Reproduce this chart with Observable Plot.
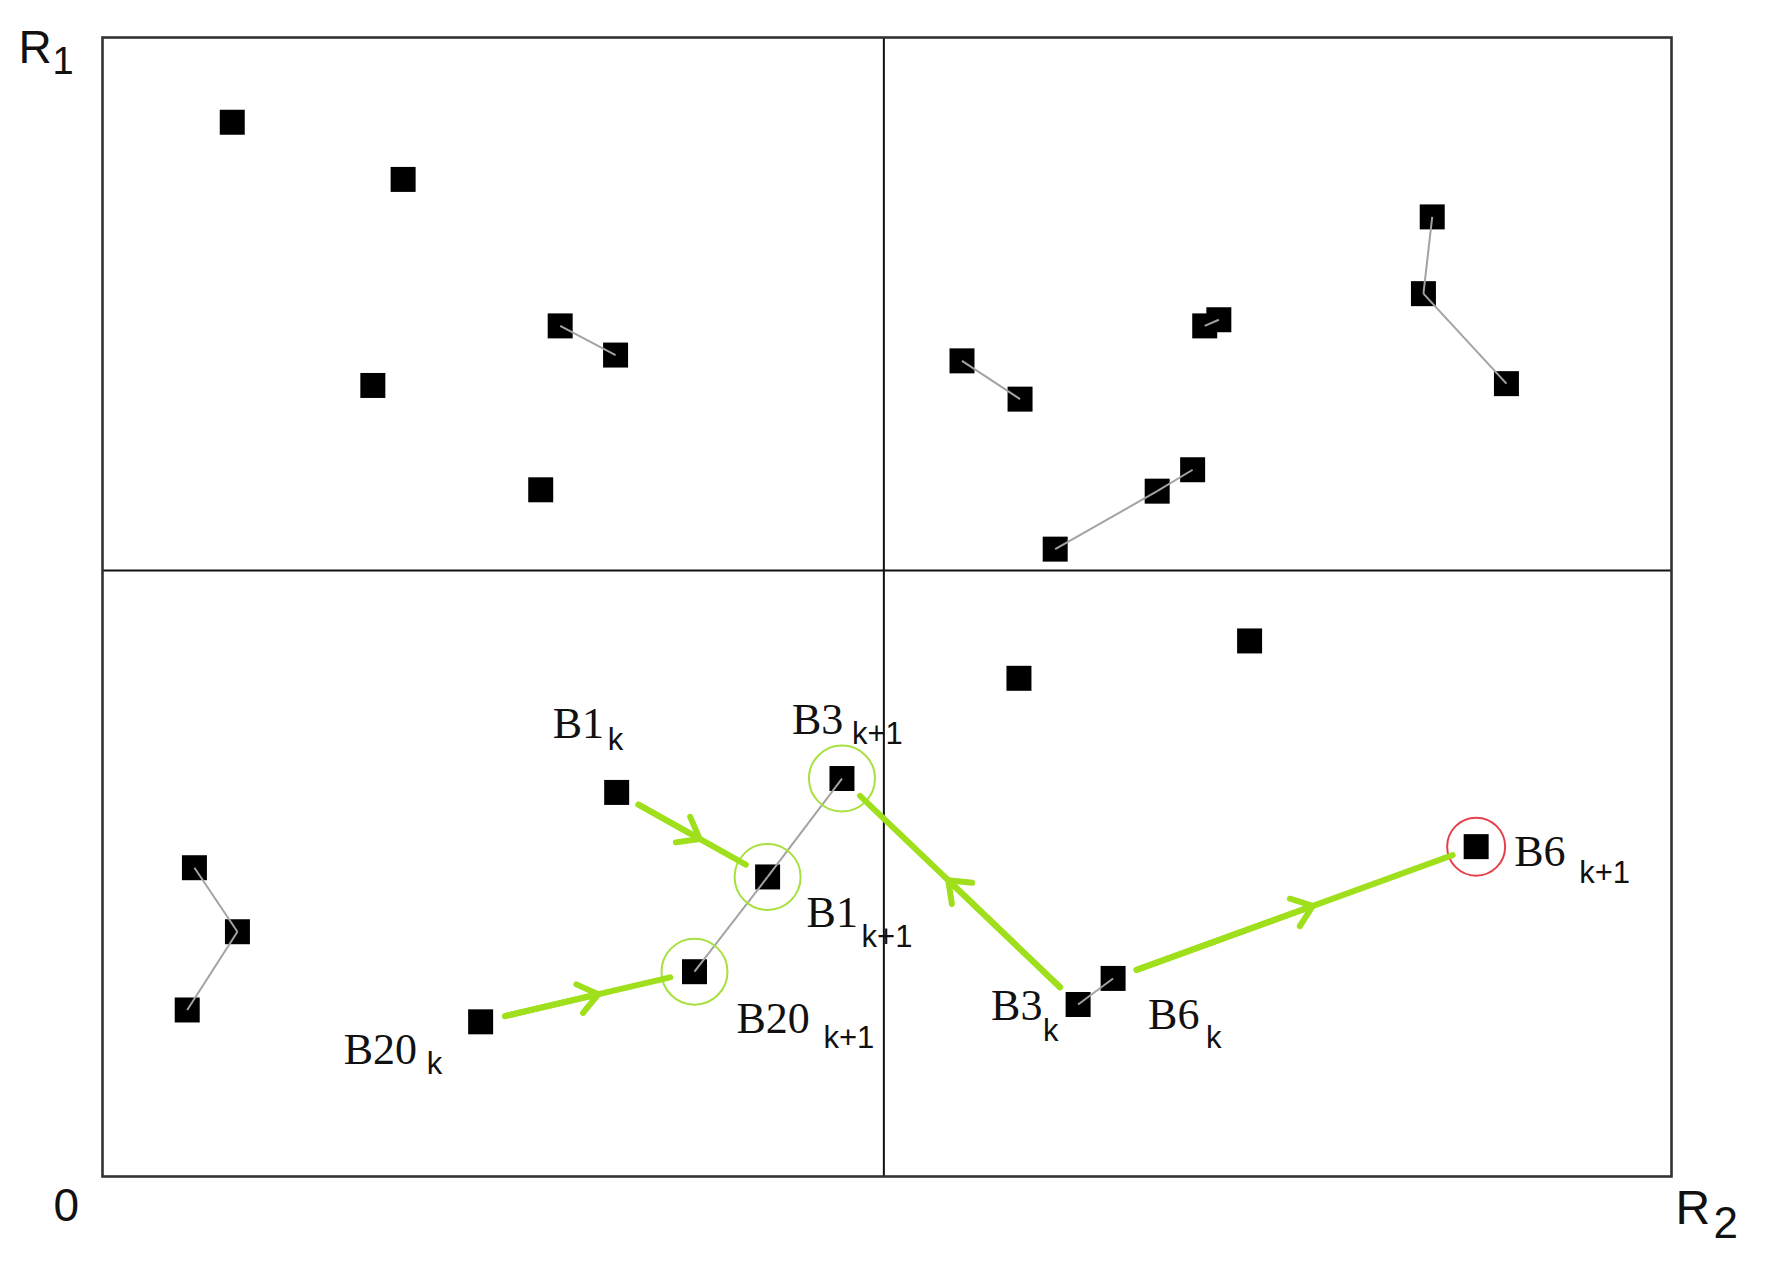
<!DOCTYPE html>
<html>
<head>
<meta charset="utf-8">
<script src="https://cdn.jsdelivr.net/npm/d3@7"></script>
<script src="https://cdn.jsdelivr.net/npm/@observablehq/plot@0.6"></script>
<style>
  html, body { margin: 0; padding: 0; background: #ffffff; }
  #chart svg { display: block; }
</style>
</head>
<body>
<div id="chart"></div>
<script>
// ---- Data (R2 horizontal, R1 vertical, both 0..100) ----
const ptName = ["P1","P2","P3","P4","P5","P6",
  "Q1","Q2","Q3a","Q3b","Q4","Q5","Q6","Q7","Q8","Q9",
  "L1","L2","L3","B1k","B1k1","B3k1","B20k1","B20k","R1p","R2p","B6k1","B3k","B6k"];
const ptR2 = [8.27,19.16,29.17,32.70,17.23,27.93,
  54.78,58.48,70.25,71.15,84.75,84.19,89.48,60.72,67.22,69.48,
  5.86,8.60,5.40,32.77,42.39,47.13,37.73,24.10,58.41,73.11,87.55,62.18,64.41];
const ptR1 = [92.56,87.54,74.68,72.12,69.45,60.29,
  71.61,68.25,74.68,75.22,84.25,77.51,69.61,55.08,60.17,62.05,
  27.11,21.49,14.62,33.72,26.30,34.94,17.98,13.58,43.74,47.02,28.96,15.10,17.39];

// grey connections between neighbouring particles
const linkPairs = [["P3","P4"],["Q1","Q2"],["Q3a","Q3b"],["Q4","Q5"],["Q5","Q6"],
  ["Q7","Q8"],["Q8","Q9"],["L1","L2"],["L2","L3"],["B3k1","B1k1"],["B1k1","B20k1"],["B3k","B6k"]];
// moves from iteration k to k+1 (green arrows)
const movePairs = [["B1k","B1k1"],["B20k","B20k1"],["B3k","B3k1"],["B6k","B6k1"]];
const greenCircled = ["B3k1","B1k1","B20k1"];
const redCircled = ["B6k1"];

// quadrant dividers
const splitR2 = [49.8];
const splitR1 = [53.2];

// labels
const labelPoint = ["B1k","B3k1","B1k1","B20k1","B20k","B3k","B6k","B6k1"];
const labelMain  = ["B1","B3","B1","B20","B20","B3","B6","B6"];
const labelSub   = ["k","k+1","k+1","k+1","k","k","k","k+1"];

// ---- Styles / layout offsets (pixels) ----
const labelOffsets = [
  [-64,-54,-9,-42],
  [-50,-45,10,-35],
  [39,50,94,70],
  [42,61,129,76],
  [-137,42,-54,52],
  [-87,15,-35,36],
  [35,51,93,70],
  [38,19,103,36]
];

const pts = ptName.map((n, i) => ({name: n, x: ptR2[i], y: ptR1[i]}));
const P = Object.fromEntries(pts.map(p => [p.name, p]));
const links = linkPairs.map(([a, b]) => ({x1: P[a].x, y1: P[a].y, x2: P[b].x, y2: P[b].y}));
const moves = movePairs.map(([a, b]) => ({x1: P[a].x, y1: P[a].y, x2: P[b].x, y2: P[b].y,
  xm: P[a].x + 0.55 * (P[b].x - P[a].x), ym: P[a].y + 0.55 * (P[b].y - P[a].y)}));

const green = "#9fdf1c";
const serif = "Liberation Serif, Times New Roman, serif";
const sans = "Liberation Sans, Arial, sans-serif";

const labelMarks = [];
labelPoint.forEach((p, i) => {
  const [mdx, mdy, sdx, sdy] = labelOffsets[i];
  labelMarks.push(Plot.text([P[p]], {x: "x", y: "y", text: () => labelMain[i], dx: mdx, dy: mdy,
    textAnchor: "start", lineAnchor: "bottom", fontFamily: serif, fontSize: 44, fill: "#111"}));
  labelMarks.push(Plot.text([P[p]], {x: "x", y: "y", text: () => labelSub[i], dx: sdx, dy: sdy,
    textAnchor: "start", lineAnchor: "bottom", fontFamily: sans, fontSize: 31, fill: "#111"}));
});

const corner = (x, y) => [{x, y}];
const axisTextMarks = [
  Plot.text(corner(0, 100), {x: "x", y: "y", text: () => "R", dx: -84, dy: 25, textAnchor: "start", lineAnchor: "bottom", fontFamily: sans, fontSize: 46, fill: "#111"}),
  Plot.text(corner(0, 100), {x: "x", y: "y", text: () => "1", dx: -50, dy: 36, textAnchor: "start", lineAnchor: "bottom", fontFamily: sans, fontSize: 38, fill: "#111"}),
  Plot.text(corner(100, 0), {x: "x", y: "y", text: () => "R", dx: 4, dy: 47, textAnchor: "start", lineAnchor: "bottom", fontFamily: sans, fontSize: 48, fill: "#111"}),
  Plot.text(corner(100, 0), {x: "x", y: "y", text: () => "2", dx: 42, dy: 61, textAnchor: "start", lineAnchor: "bottom", fontFamily: sans, fontSize: 44, fill: "#111"}),
  Plot.text(corner(0, 0), {x: "x", y: "y", text: () => "0", dx: -49, dy: 44, textAnchor: "start", lineAnchor: "bottom", fontFamily: sans, fontSize: 46, fill: "#111"})
];

const chart = Plot.plot({
  width: 1765,
  height: 1279,
  marginLeft: 102,
  marginRight: 94,
  marginTop: 37,
  marginBottom: 103,
  x: {domain: [0, 100], axis: null},
  y: {domain: [0, 100], axis: null},
  style: {background: "#ffffff", overflow: "visible"},
  marks: [
    Plot.ruleX(splitR2, {stroke: "#111", strokeWidth: 2}),
    Plot.ruleY(splitR1, {stroke: "#111", strokeWidth: 2}),
    Plot.frame({stroke: "#333", strokeWidth: 2.6}),
    Plot.dot(pts, {x: "x", y: "y", symbol: "square", r: 14.1, fill: "#000", stroke: "none"}),
    Plot.link(links, {x1: "x1", y1: "y1", x2: "x2", y2: "y2", stroke: "#a3a3a3", strokeWidth: 2}),
    Plot.dot(greenCircled.map(n => P[n]), {x: "x", y: "y", r: 33, fill: "none", stroke: "#a8e040", strokeWidth: 2}),
    Plot.dot(redCircled.map(n => P[n]), {x: "x", y: "y", r: 29, fill: "none", stroke: "#e8404a", strokeWidth: 2}),
    Plot.arrow(moves, {x1: "x1", y1: "y1", x2: "x2", y2: "y2", stroke: green, strokeWidth: 6,
      insetStart: 25, insetEnd: 25, headLength: 0}),
    Plot.arrow(moves, {x1: "x1", y1: "y1", x2: "xm", y2: "ym", stroke: green, strokeWidth: 6,
      insetStart: 25, headLength: 6, headAngle: 75}),
    ...labelMarks,
    ...axisTextMarks
  ]
});
document.getElementById("chart").appendChild(chart);
</script>
</body>
</html>
